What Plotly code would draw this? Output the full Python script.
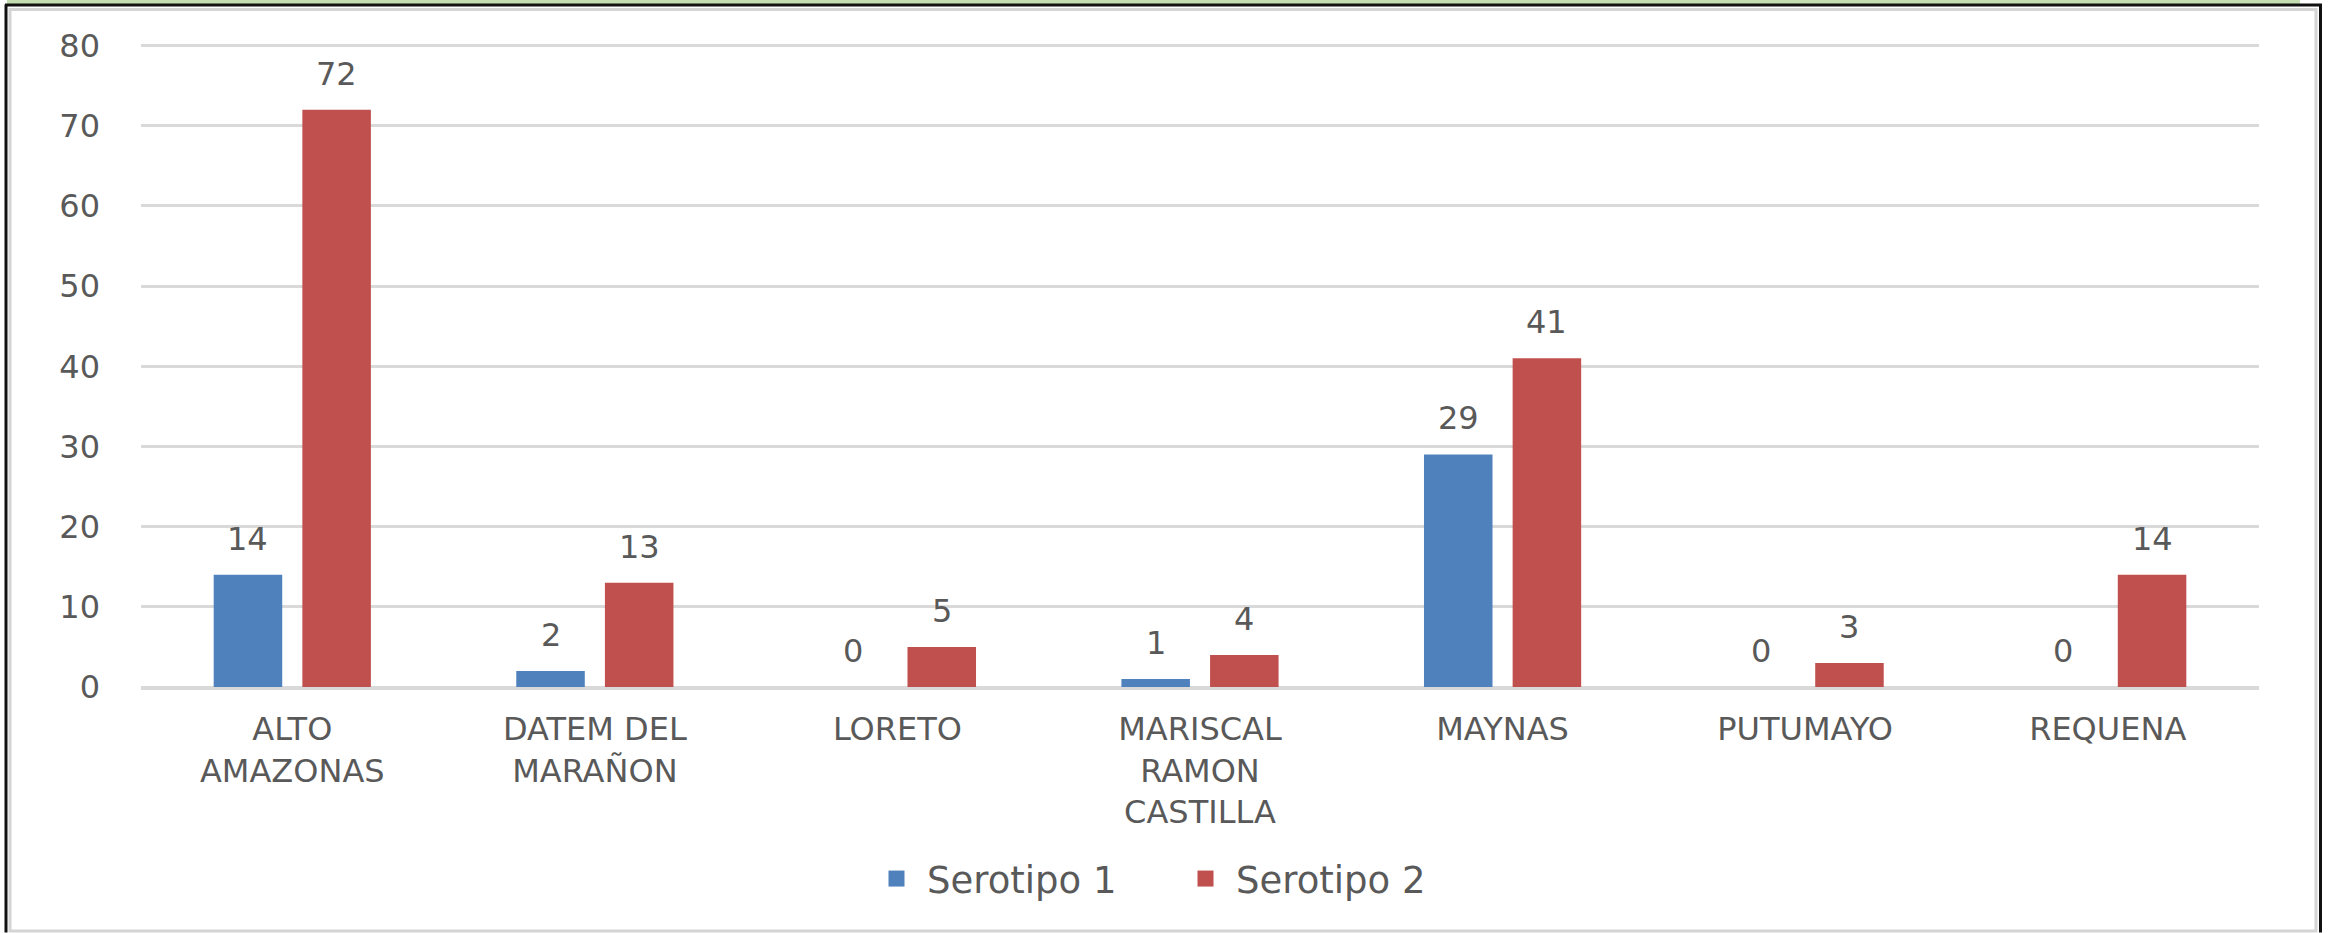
import plotly.graph_objects as go

categories = ["ALTO<br>AMAZONAS", "DATEM DEL<br>MARAÑON", "LORETO",
              "MARISCAL<br>RAMON<br>CASTILLA", "MAYNAS", "PUTUMAYO", "REQUENA"]
serotipo1 = [14, 2, 0, 1, 29, 0, 0]
serotipo2 = [72, 13, 5, 4, 41, 3, 14]
series_names = ["Serotipo 1", "Serotipo 2"]
y_ticks = [0, 10, 20, 30, 40, 50, 60, 70, 80]

W, H = 2333, 933
YMAX = 80.2
L, R, T, B = 141, 74, 44.4, 245.5
BLUE, RED = "#4F81BD", "#C0504D"
TXT = "#595959"
GRID = "#D9D9D9"
FONT = "DejaVu Sans"
FS = 32
BARGAP, GROUPGAP = 0.414, 0.227

fig = go.Figure()
fig.add_trace(go.Bar(x=categories, y=serotipo1, name=series_names[0],
                     legendgroup="s1", showlegend=False,
                     marker=dict(color=BLUE, line=dict(width=0))))
fig.add_trace(go.Bar(x=categories, y=serotipo2, name=series_names[1],
                     legendgroup="s2", showlegend=False,
                     marker=dict(color=RED, line=dict(width=0))))
# legend entries with larger square swatches
for name, col, grp in ((series_names[0], BLUE, "s1"), (series_names[1], RED, "s2")):
    fig.add_trace(go.Scatter(x=[None], y=[None], mode="markers", name=name,
                             legendgroup=grp, showlegend=True,
                             marker=dict(symbol="square", size=22, color=col,
                                         line=dict(width=0))))

# data labels
pw = W - L - R
catw = pw / len(categories)
off = (1 - BARGAP) * catw / 4
annotations = []
for vals, sh in ((serotipo1, -off), (serotipo2, off)):
    for c, v in zip(categories, vals):
        annotations.append(dict(x=c, y=v, xref="x", yref="y", text=str(v),
                                showarrow=False, xshift=sh, yshift=36,
                                yanchor="middle", xanchor="center",
                                font=dict(family=FONT, size=FS, color=TXT)))

# frame shapes (pixel -> paper)
ph = H - T - B
def px(x):
    return (x - L) / pw
def py(y):
    return (H - B - y) / ph

shapes = [
    dict(type="rect", xref="paper", yref="paper", x0=px(7), x1=px(2300),
         y0=py(0), y1=py(5), fillcolor="#C3DCB0", line=dict(width=0), layer="above"),
    dict(type="rect", xref="paper", yref="paper", x0=px(10), x1=px(2316),
         y0=py(10), y1=py(931.5), fillcolor="rgba(0,0,0,0)",
         line=dict(color="#D4D4D4", width=3), layer="below"),
    dict(type="line", xref="paper", yref="paper", x0=px(6), x1=px(6),
         y0=py(5), y1=py(933), line=dict(color="#111111", width=3)),
    dict(type="line", xref="paper", yref="paper", x0=px(5), x1=px(2322),
         y0=py(5.5), y1=py(5.5), line=dict(color="#111111", width=3)),
    dict(type="line", xref="paper", yref="paper", x0=px(2320.5), x1=px(2320.5),
         y0=py(5), y1=py(933), line=dict(color="#111111", width=3)),
]

LEG_X = 866
fig.update_layout(
    width=W, height=H,
    margin=dict(l=L, r=R, t=T, b=B, pad=0),
    paper_bgcolor="white", plot_bgcolor="white",
    barmode="group", bargap=BARGAP, bargroupgap=GROUPGAP,
    font=dict(family=FONT, size=FS, color=TXT),
    showlegend=True,
    legend=dict(orientation="h", xref="container", yref="container",
                x=LEG_X / W, xanchor="left", y=1 - 879 / H, yanchor="middle",
                font=dict(family=FONT, size=37, color=TXT),
                itemwidth=51, entrywidth=243, itemsizing="trace",
                bgcolor="rgba(0,0,0,0)"),
    annotations=annotations,
    shapes=shapes,
)
fig.update_xaxes(showgrid=False, showline=True, linecolor=GRID, linewidth=2.5,
                 ticks="", ticklabelstandoff=12,
                 tickfont=dict(family=FONT, size=FS, color=TXT))
fig.update_yaxes(range=[0, YMAX], tickvals=y_ticks, showgrid=True, gridcolor=GRID,
                 gridwidth=2.5, zeroline=True, zerolinecolor=GRID, zerolinewidth=2.5,
                 showline=False, ticks="", ticklabelstandoff=40,
                 tickfont=dict(family=FONT, size=FS, color=TXT))

fig.write_html("out.html",
               config={"displayModeBar": False},
               post_script="document.body.style.margin='0';"
                           "document.body.style.overflow='hidden';")
